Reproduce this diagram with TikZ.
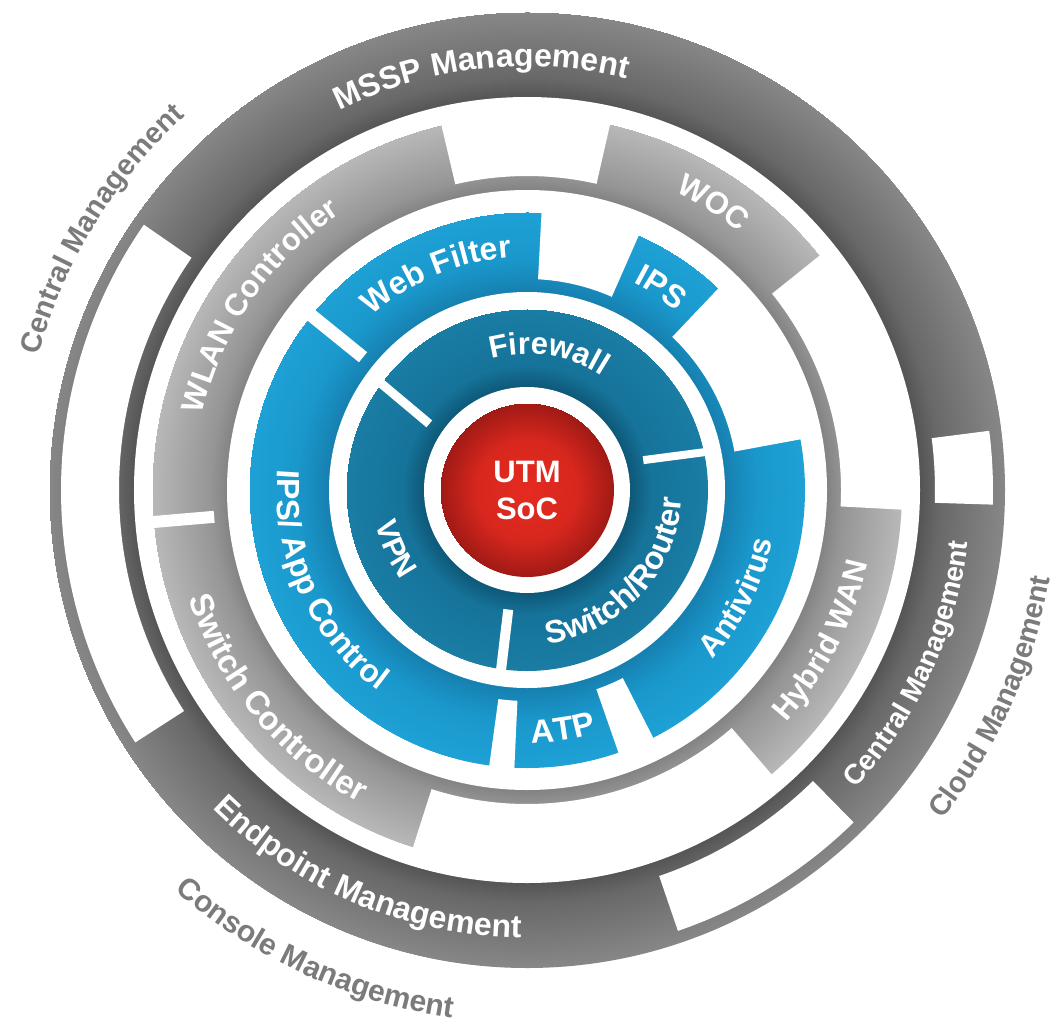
\documentclass[tikz,border=0pt]{standalone}
\usepackage{fontspec}
\setmainfont{Liberation Sans}
\usetikzlibrary{decorations.text}

% palette
\definecolor{bandIn}{HTML}{555555}
\definecolor{bandMid}{HTML}{686868}
\definecolor{bandOut}{HTML}{878787}
\definecolor{ringIn}{HTML}{838383}
\definecolor{ringMid}{HTML}{959595}
\definecolor{ringOut}{HTML}{B8B8B8}
\definecolor{blueIn}{HTML}{1680B0}
\definecolor{blueMid}{HTML}{1A98CC}
\definecolor{blueOut}{HTML}{1EA1D6}
\definecolor{tealIn}{HTML}{0E5878}
\definecolor{tealMid}{HTML}{16739A}
\definecolor{tealOut}{HTML}{1A7DA4}
\definecolor{redIn}{HTML}{E42B21}
\definecolor{redMid}{HTML}{D8271E}
\definecolor{redOut}{HTML}{A01A15}
\definecolor{outerText}{HTML}{7B7B7B}

% radial gradients, radii in pt (1 unit = 1pt)
\pgfdeclareradialshading{bigbandsh}{\pgfpointorigin}{color(0pt)=(bandIn); color(393pt)=(bandIn); color(412pt)=(bandMid); color(478pt)=(bandOut)}
\pgfdeclareradialshading{ringsh}{\pgfpointorigin}{color(0pt)=(ringIn); color(300pt)=(ringIn); color(316pt)=(ringMid); color(375pt)=(ringOut)}
\pgfdeclareradialshading{bluesh}{\pgfpointorigin}{color(0pt)=(blueIn); color(198pt)=(blueIn); color(232pt)=(blueMid); color(278pt)=(blueOut)}
\pgfdeclareradialshading{tealsh}{\pgfpointorigin}{color(0pt)=(tealIn); color(103pt)=(tealIn); color(125pt)=(tealMid); color(181pt)=(tealOut)}
\pgfdeclareradialshading{redsh}{\pgfpointorigin}{color(0pt)=(redIn); color(50pt)=(redMid); color(87pt)=(redOut)}

% annular sector: style, inner radius, outer radius, start angle, end angle
\newcommand\annsec[5]{\fill[#1] (#4:#2) arc[start angle=#4,end angle=#5,radius=#2] -- (#5:#3) arc[start angle=#5,end angle=#4,radius=#3] -- cycle;}

% curved labels: format, baseline radius, centre angle, text
\newcommand\cwtext[4]{\path[decorate,decoration={text along path,text align=center,text={|#1|#4}}] (#3+70:#2) arc[start angle=#3+70,end angle=#3-70,radius=#2];}
\newcommand\ccwtext[4]{\path[decorate,decoration={text along path,text align=center,text={|#1|#4}}] (#3-70:#2) arc[start angle=#3-70,end angle=#3+70,radius=#2];}

\newcommand\wfont[1]{\fontsize{#1}{#1}\selectfont\bfseries\color{white}}
\newcommand\gfont[1]{\fontsize{#1}{#1}\selectfont\bfseries\color{outerText}}

\begin{document}
\begin{tikzpicture}[x=1pt,y=1pt]
\useasboundingbox (-527,-536) rectangle (529,490);
\fill[white] (-527,-536) rectangle (529,490);

% outer management band with its open windows
\begin{scope}
  \clip (0,0) circle (478);
  \pgfuseshading{bigbandsh}
\end{scope}
\fill[white] (0,0) circle (393);
\annsec{white}{408}{466}{145.3}{212.8}
\annsec{white}{408}{466}{-1.8}{7.3}
\annsec{white}{408}{466}{-71.1}{-45.5}

% grey controller ring
\begin{scope}
  \clip (0,0) circle (375);
  \pgfuseshading{ringsh}
\end{scope}
\fill[white] (0,0) circle (300);
\annsec{white}{314}{377}{77.2}{103.2}
\annsec{white}{314}{377}{-3}{38.7}
\annsec{white}{314}{377}{-107.7}{-49.3}
\draw[white,line width=12] (184.9:314) -- (184.9:378);

% blue security ring
\begin{scope}
  \clip (0,0) circle (278);
  \pgfuseshading{bluesh}
\end{scope}
\fill[white] (0,0) circle (198);
\annsec{white}{211}{280}{66.3}{87}
\annsec{white}{211}{280}{10.5}{46.5}
\annsec{white}{211}{280}{-70.8}{-63}
\annsec{white}{211}{280}{-97.8}{-92.6}
\draw[white,line width=13] (141:211) -- (141:281);

% teal network ring
\begin{scope}
  \clip (0,0) circle (181);
  \pgfuseshading{tealsh}
\end{scope}
\fill[white] (0,0) circle (103);
\draw[white,line width=9] (143.8:183) -- (145.9:118);
\draw[white,line width=8] (12:183) -- (14.4:120);
\draw[white,line width=10] (-98.2:183) -- (-98.9:121);

% core
\begin{scope}
  \clip (0,0) circle (87);
  \pgfuseshading{redsh}
\end{scope}
\node (core) [text=white,font=\fontsize{31}{37}\selectfont\bfseries,align=center,inner sep=0pt] at (0,0) {UTM\\SoC};

% labels
\cwtext{\wfont{32}}{423.5}{96.3}{MSSP Management}
\ccwtext{\wfont{28}}{444}{-24.5}{Central Management}
\ccwtext{\wfont{32}}{447.5}{247.3}{Endpoint Management}
\cwtext{\wfont{31}}{333.5}{145.4}{WLAN Controller}
\cwtext{\wfont{31}}{333.5}{57}{WOC}
\ccwtext{\wfont{31}}{348}{-27}{Hybrid WAN}
\ccwtext{\wfont{33}}{355}{219.8}{Switch Controller}
\cwtext{\wfont{32}}{233}{112.8}{Web Filter}
\cwtext{\wfont{32}}{233}{56.4}{IPS}
\ccwtext{\wfont{31}}{251}{-27}{Antivirus}
\ccwtext{\wfont{33}}{253}{-81.5}{ATP}
\ccwtext{\wfont{32}}{250}{204.5}{IPS/ App Control}
\cwtext{\wfont{31}}{136}{81}{Firewall}
\ccwtext{\wfont{30}}{155}{204}{VPN}
\ccwtext{\wfont{32}}{155}{-42.8}{Switch/Router}
\cwtext{\gfont{29}}{506.6}{148.5}{Central Management}
\ccwtext{\gfont{29}}{530}{-24}{Cloud Management}
\ccwtext{\gfont{30}}{533}{245.3}{Console Management}
\end{tikzpicture}
\end{document}
